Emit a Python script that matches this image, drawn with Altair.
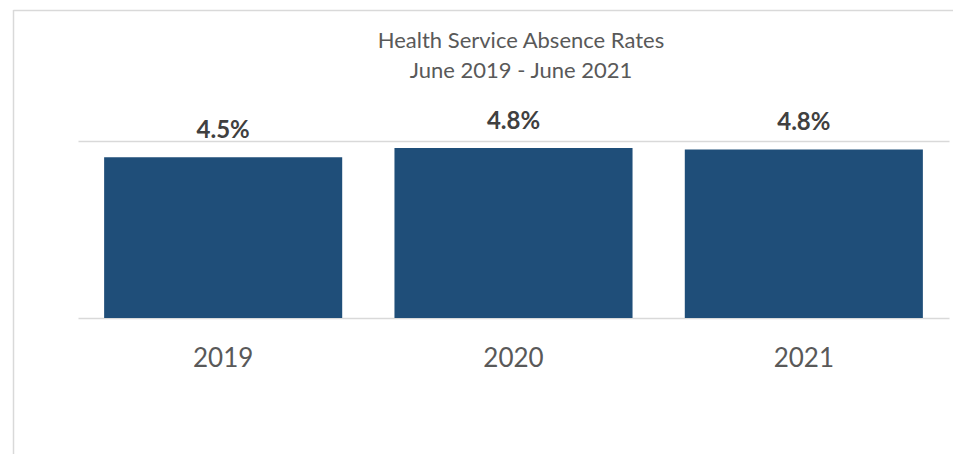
import altair as alt
import pandas as pd

# Data
years = ["2019", "2020", "2021"]
rates = [4.54, 4.80, 4.76]  # absence rate, %
title_lines = ["Health Service Absence Rates", "June 2019 - June 2021"]

FONT = "Lato"
TEXT_GREY = "#595959"
GRID = "#d9d9d9"

df = pd.DataFrame({"year": years, "rate": rates})

W, H = 871, 177
PAD = {"left": 78, "top": 141, "right": 4, "bottom": 136}

base = alt.Chart(df).encode(
    x=alt.X(
        "year:N",
        sort=years,
        scale=alt.Scale(paddingInner=0.18, paddingOuter=0.09),
        axis=alt.Axis(
            title=None, labelAngle=0, ticks=False, domain=False,
            labelFont=FONT, labelFontSize=26, labelColor=TEXT_GREY,
            labelBaseline="alphabetic", labelPadding=48,
        ),
    ),
    y=alt.Y(
        "rate:Q",
        scale=alt.Scale(domain=[0, 5], nice=False),
        axis=alt.Axis(
            title=None, labels=False, ticks=False, domain=False,
            values=[0, 5], grid=True, gridColor=GRID, gridWidth=1.5,
        ),
    ),
)

bars = base.mark_bar(color="#1f4e79")

labels = base.transform_calculate(
    label="format(datum.rate, '.1f') + '%'"
).mark_text(
    font=FONT, fontSize=24, fontWeight="bold", color="#404040",
    baseline="alphabetic", align="center", dy=-19,
).encode(text="label:N")

# chart title (two centred lines)
t1 = alt.Chart(pd.DataFrame({"t": [title_lines[0]]})).mark_text(
    font=FONT, fontSize=22, color=TEXT_GREY, align="center", baseline="alphabetic"
).encode(text="t:N", x=alt.value(443), y=alt.value(-93))
t2 = alt.Chart(pd.DataFrame({"t": [title_lines[1]]})).mark_text(
    font=FONT, fontSize=22, color=TEXT_GREY, align="center", baseline="alphabetic"
).encode(text="t:N", x=alt.value(443), y=alt.value(-63))

# outer chart-area frame (left and top edges visible in the window)
one = pd.DataFrame({"k": [0]})
left_edge = alt.Chart(one).mark_rule(color=GRID, strokeWidth=1.5).encode(
    x=alt.value(-64.5), y=alt.value(-131), y2=alt.value(313)
)
top_edge = alt.Chart(one).mark_rule(color=GRID, strokeWidth=1.5).encode(
    y=alt.value(-130.5), x=alt.value(-64.5), x2=alt.value(876)
)

chart = alt.layer(left_edge, top_edge, bars, labels, t1, t2).properties(
    width=W, height=H,
    autosize=alt.AutoSizeParams(type="none"),
    padding=PAD,
    background="white",
).configure_view(stroke=None)

chart.save("out.html", embed_options={"renderer": "svg", "actions": False})
